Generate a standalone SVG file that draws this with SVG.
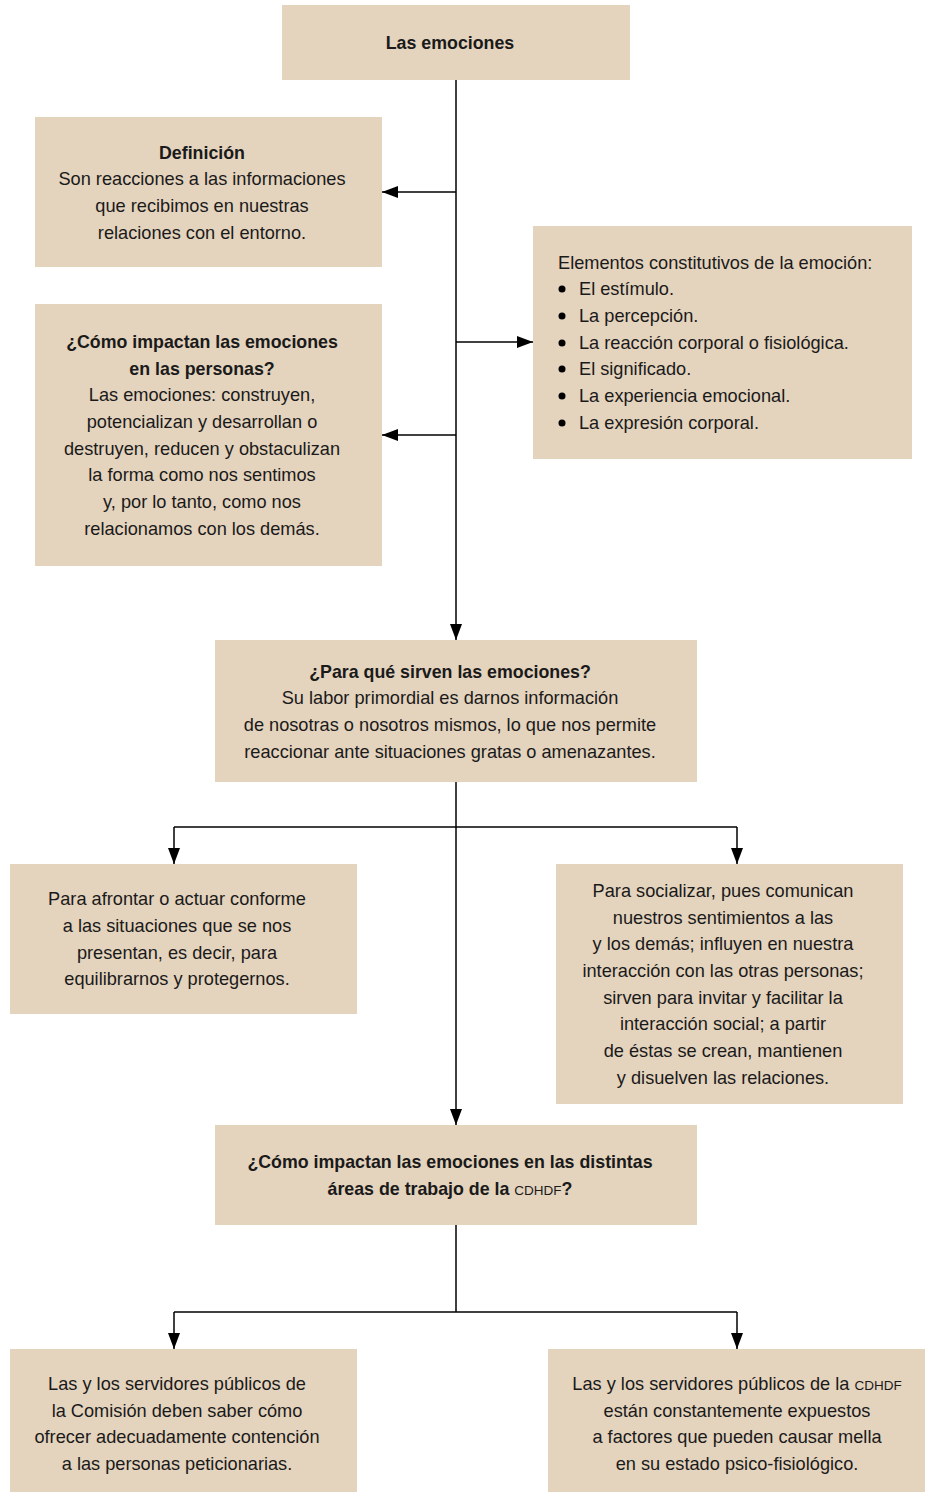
<svg xmlns="http://www.w3.org/2000/svg" width="925" height="1492" viewBox="0 0 925 1492">
<style>
.box{fill:#e4d3bd}
text{font-family:"Liberation Sans",Arial,sans-serif;font-size:18.2px;fill:#1a1a1a}
.c{text-anchor:middle}
.b{font-weight:bold;font-size:17.8px}
.sc{font-size:13.5px}
.ln{stroke:#000;stroke-width:1.5;fill:none}
</style>
<defs>
<marker id="ah" viewBox="0 0 16 12" refX="16" refY="6" markerWidth="16" markerHeight="12" markerUnits="userSpaceOnUse" orient="auto">
<path d="M0,0 L16,6 L0,12 Z" fill="#000"/>
</marker>
</defs>
<rect width="925" height="1492" fill="#fff"/>
<g id="connectors">
<line class="ln" x1="456" y1="80" x2="456" y2="640" marker-end="url(#ah)"/>
<line class="ln" x1="456" y1="192" x2="382" y2="192" marker-end="url(#ah)"/>
<line class="ln" x1="456" y1="342" x2="533" y2="342" marker-end="url(#ah)"/>
<line class="ln" x1="456" y1="435" x2="382" y2="435" marker-end="url(#ah)"/>
<line class="ln" x1="456" y1="782" x2="456" y2="1125" marker-end="url(#ah)"/>
<line class="ln" x1="174" y1="827" x2="737" y2="827"/>
<line class="ln" x1="174" y1="827" x2="174" y2="864" marker-end="url(#ah)"/>
<line class="ln" x1="737" y1="827" x2="737" y2="864" marker-end="url(#ah)"/>
<line class="ln" x1="456" y1="1225" x2="456" y2="1312"/>
<line class="ln" x1="174" y1="1312" x2="737" y2="1312"/>
<line class="ln" x1="174" y1="1312" x2="174" y2="1349" marker-end="url(#ah)"/>
<line class="ln" x1="737" y1="1312" x2="737" y2="1349" marker-end="url(#ah)"/>
</g>
<g id="n1">
<rect class="box" x="282" y="5" width="348" height="75"/>
<text class="c b" x="450" y="49">Las emociones</text>
</g>
<g id="n2">
<rect class="box" x="35" y="117" width="347" height="150"/>
<text class="c b" x="202" y="159">Definición</text>
<text class="c" x="202" y="185">Son reacciones a las informaciones</text>
<text class="c" x="202" y="212">que recibimos en nuestras</text>
<text class="c" x="202" y="239">relaciones con el entorno.</text>
</g>
<g id="n3">
<rect class="box" x="533" y="226" width="379" height="233"/>
<text x="558" y="269">Elementos constitutivos de la emoción:</text>
<g fill="#000">
<circle cx="562" cy="289" r="3.5"/><circle cx="562" cy="316" r="3.5"/><circle cx="562" cy="343" r="3.5"/>
<circle cx="562" cy="369" r="3.5"/><circle cx="562" cy="396" r="3.5"/><circle cx="562" cy="423" r="3.5"/>
</g>
<text x="579" y="295">El estímulo.</text>
<text x="579" y="322">La percepción.</text>
<text x="579" y="349">La reacción corporal o fisiológica.</text>
<text x="579" y="375">El significado.</text>
<text x="579" y="402">La experiencia emocional.</text>
<text x="579" y="429">La expresión corporal.</text>
</g>
<g id="n4">
<rect class="box" x="35" y="304" width="347" height="262"/>
<text class="c b" x="202" y="348">¿Cómo impactan las emociones</text>
<text class="c b" x="202" y="375">en las personas?</text>
<text class="c" x="202" y="401">Las emociones: construyen,</text>
<text class="c" x="202" y="428">potencializan y desarrollan o</text>
<text class="c" x="202" y="455">destruyen, reducen y obstaculizan</text>
<text class="c" x="202" y="481">la forma como nos sentimos</text>
<text class="c" x="202" y="508">y, por lo tanto, como nos</text>
<text class="c" x="202" y="535">relacionamos con los demás.</text>
</g>
<g id="n5">
<rect class="box" x="215" y="640" width="482" height="142"/>
<text class="c b" x="450" y="678">¿Para qué sirven las emociones?</text>
<text class="c" x="450" y="704">Su labor primordial es darnos información</text>
<text class="c" x="450" y="731">de nosotras o nosotros mismos, lo que nos permite</text>
<text class="c" x="450" y="758">reaccionar ante situaciones gratas o amenazantes.</text>
</g>
<g id="n6">
<rect class="box" x="10" y="864" width="347" height="150"/>
<text class="c" x="177" y="905">Para afrontar o actuar conforme</text>
<text class="c" x="177" y="932">a las situaciones que se nos</text>
<text class="c" x="177" y="959">presentan, es decir, para</text>
<text class="c" x="177" y="985">equilibrarnos y protegernos.</text>
</g>
<g id="n7">
<rect class="box" x="556" y="864" width="347" height="240"/>
<text class="c" x="723" y="897">Para socializar, pues comunican</text>
<text class="c" x="723" y="924">nuestros sentimientos a las</text>
<text class="c" x="723" y="950">y los demás; influyen en nuestra</text>
<text class="c" x="723" y="977">interacción con las otras personas;</text>
<text class="c" x="723" y="1004">sirven para invitar y facilitar la</text>
<text class="c" x="723" y="1030">interacción social; a partir</text>
<text class="c" x="723" y="1057">de éstas se crean, mantienen</text>
<text class="c" x="723" y="1084">y disuelven las relaciones.</text>
</g>
<g id="n8">
<rect class="box" x="215" y="1125" width="482" height="100"/>
<text class="c b" x="450" y="1168">¿Cómo impactan las emociones en las distintas</text>
<text class="c b" x="450" y="1195">áreas de trabajo de la <tspan class="sc" font-weight="normal">CDHDF</tspan>?</text>
</g>
<g id="n9">
<rect class="box" x="10" y="1349" width="347" height="143"/>
<text class="c" x="177" y="1390">Las y los servidores públicos de</text>
<text class="c" x="177" y="1417">la Comisión deben saber cómo</text>
<text class="c" x="177" y="1443">ofrecer adecuadamente contención</text>
<text class="c" x="177" y="1470">a las personas peticionarias.</text>
</g>
<g id="n10">
<rect class="box" x="548" y="1349" width="377" height="143"/>
<text class="c" x="737" y="1390">Las y los servidores públicos de la <tspan class="sc">CDHDF</tspan></text>
<text class="c" x="737" y="1417">están constantemente expuestos</text>
<text class="c" x="737" y="1443">a factores que pueden causar mella</text>
<text class="c" x="737" y="1470">en su estado psico-fisiológico.</text>
</g>
</svg>
